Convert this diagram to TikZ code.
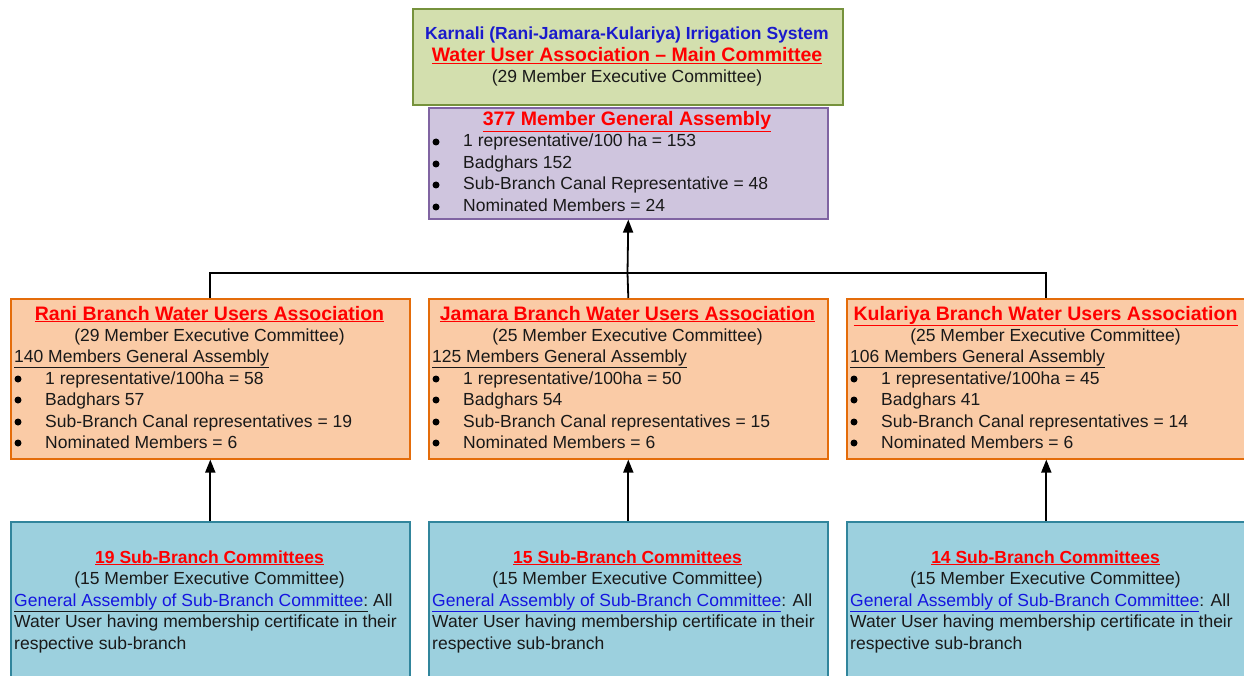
\documentclass[tikz,border=0pt]{standalone}
\usepackage{fontspec}
\setmainfont{Liberation Sans}
\usetikzlibrary{arrows.meta}
\definecolor{gfill}{HTML}{D3DFAE}
\definecolor{gline}{HTML}{76923C}
\definecolor{pfill}{HTML}{CFC5DE}
\definecolor{pline}{HTML}{8064A2}
\definecolor{ofill}{HTML}{FACBA6}
\definecolor{oline}{HTML}{E46C0A}
\definecolor{bfill}{HTML}{9CD0DE}
\definecolor{bline}{HTML}{31859C}
\definecolor{ttlred}{HTML}{FF0000}
\definecolor{ttlblue}{HTML}{1A1ACC}
\definecolor{lnkblue}{HTML}{1515E0}
\newcommand{\ttl}[1]{{\fontsize{19.5}{21.5}\selectfont\textcolor{ttlred}{\bfseries\underline{#1}}}}
\newcommand{\sttl}[1]{\textcolor{ttlred}{\bfseries\underline{#1}}}
\begin{document}
\begin{tikzpicture}[x=1pt,y=-1pt,
  every node/.style={font=\fontsize{17.5}{21.5}\selectfont, inner sep=0pt, text=black!90},
  box/.style={draw, line width=1.6pt, inner sep=0pt, anchor=north west},
  ln/.style={anchor=base west},
  bulletdot/.style={circle, fill=black, minimum size=7pt, inner sep=0pt},
  lc/.style={anchor=base},
  conn/.style={line width=1.8pt, black},
  arr/.style={conn, -{Triangle[length=13pt,width=10pt]}}]
\useasboundingbox (0,0) rectangle (1244,676);
\begin{scope}
\clip (0,0) rectangle (1244,676);
% boxes
\node[box, draw=gline, fill=gfill, minimum width=430pt, minimum height=96pt] (main) at (412,8) {};
\node[box, draw=pline, fill=pfill, minimum width=399pt, minimum height=111pt] (ga) at (428,107) {};
\node[box, draw=oline, fill=ofill, minimum width=399pt, minimum height=160pt] (rani) at (10,298) {};
\node[box, draw=oline, fill=ofill, minimum width=399pt, minimum height=160pt] (jam) at (428,298) {};
\node[box, draw=oline, fill=ofill, minimum width=399pt, minimum height=160pt] (kul) at (846,298) {};
\node[box, draw=bline, fill=bfill, minimum width=399pt, minimum height=170pt] (sr) at (10,521) {};
\node[box, draw=bline, fill=bfill, minimum width=399pt, minimum height=170pt] (sj) at (428,521) {};
\node[box, draw=bline, fill=bfill, minimum width=399pt, minimum height=170pt] (sk) at (846,521) {};
\end{scope}
% connectors
\coordinate (junc) at (627.5,273);
\draw[conn] (rani.north) |- (junc) -| (kul.north);
\draw[conn] (jam.north) -- (junc);
\draw[arr] (junc) -- (ga.south);
\draw[arr] (sr.north) -- (rani.south);
\draw[arr] (sj.north) -- (jam.south);
\draw[arr] (sk.north) -- (kul.south);
% main texts
\node[lc] (m1) at (627,40) {\textcolor{ttlblue}{\bfseries Karnali (Rani-Jamara-Kulariya) Irrigation System}};
\node[lc] (m2) at (627,62) {\ttl{Water User Association -- Main Committee}};
\node[lc] (m3) at (627,83) {(29 Member Executive Committee)};
% general assembly
\node[lc] (g0) at (627,126) {\ttl{377 Member General Assembly}};
\node[bulletdot] (gb1) at (436,142) {};
\node[ln] (g1) at (463,147) {1 representative/100 ha = 153};
\node[bulletdot] (gb2) at (436,164) {};
\node[ln] (g2) at (463,169) {Badghars 152};
\node[bulletdot] (gb3) at (436,185) {};
\node[ln] (g3) at (463,190) {Sub-Branch Canal Representative = 48};
\node[bulletdot] (gb4) at (436,207) {};
\node[ln] (g4) at (463,212) {Nominated Members = 24};
% branch boxes
\foreach \nm/\x/\t/\ex/\tot/\a/\b/\c in {
  r/10/Rani/29/140/58/57/19,
  j/428/Jamara/25/125/50/54/15,
  k/846/Kulariya/25/106/45/41/14}{
  \node[lc] (\nm t) at (\x+199.5,320) {\ttl{\t\ Branch Water Users Association}};
  \node[lc] (\nm e) at (\x+199.5,341) {(\ex\ Member Executive Committee)};
  \node[ln] (\nm g) at (\x+4,362) {\underline{\tot\ Members General Assembly}};
  \node[bulletdot] (\nm b1) at (\x+8,379) {};
  \node[ln] (\nm l1) at (\x+35,384) {1 representative/100ha = \a};
  \node[bulletdot] (\nm b2) at (\x+8,400) {};
  \node[ln] (\nm l2) at (\x+35,405) {Badghars \b};
  \node[bulletdot] (\nm b3) at (\x+8,422) {};
  \node[ln] (\nm l3) at (\x+35,427) {Sub-Branch Canal representatives = \c};
  \node[bulletdot] (\nm b4) at (\x+8,443) {};
  \node[ln] (\nm l4) at (\x+35,448) {Nominated Members = 6};
}
% sub-branch boxes
\foreach \nm/\x/\n in {sr/10/19, sj/428/15, sk/846/14}{
  \node[lc] (\nm t) at (\x+199.5,563) {\sttl{\n\ Sub-Branch Committees}};
  \node[lc] (\nm e) at (\x+199.5,584) {(15 Member Executive Committee)};
  \node[ln] (\nm l2) at (\x+4,627) {Water User having membership certificate in their};
  \node[ln] (\nm l3) at (\x+4,649) {respective sub-branch};
}
\node[ln] (srl1) at (14,606) {\underline{\textcolor{lnkblue}{General Assembly of Sub-Branch Committee}:} All};
\node[ln] (sjl1) at (432,606) {\textcolor{lnkblue}{\underline{General Assembly of Sub-Branch Committee}}: All};
\node[ln] (skl1) at (850,606) {\textcolor{lnkblue}{\underline{General Assembly of Sub-Branch Committee}}: All};
\end{tikzpicture}
\end{document}
